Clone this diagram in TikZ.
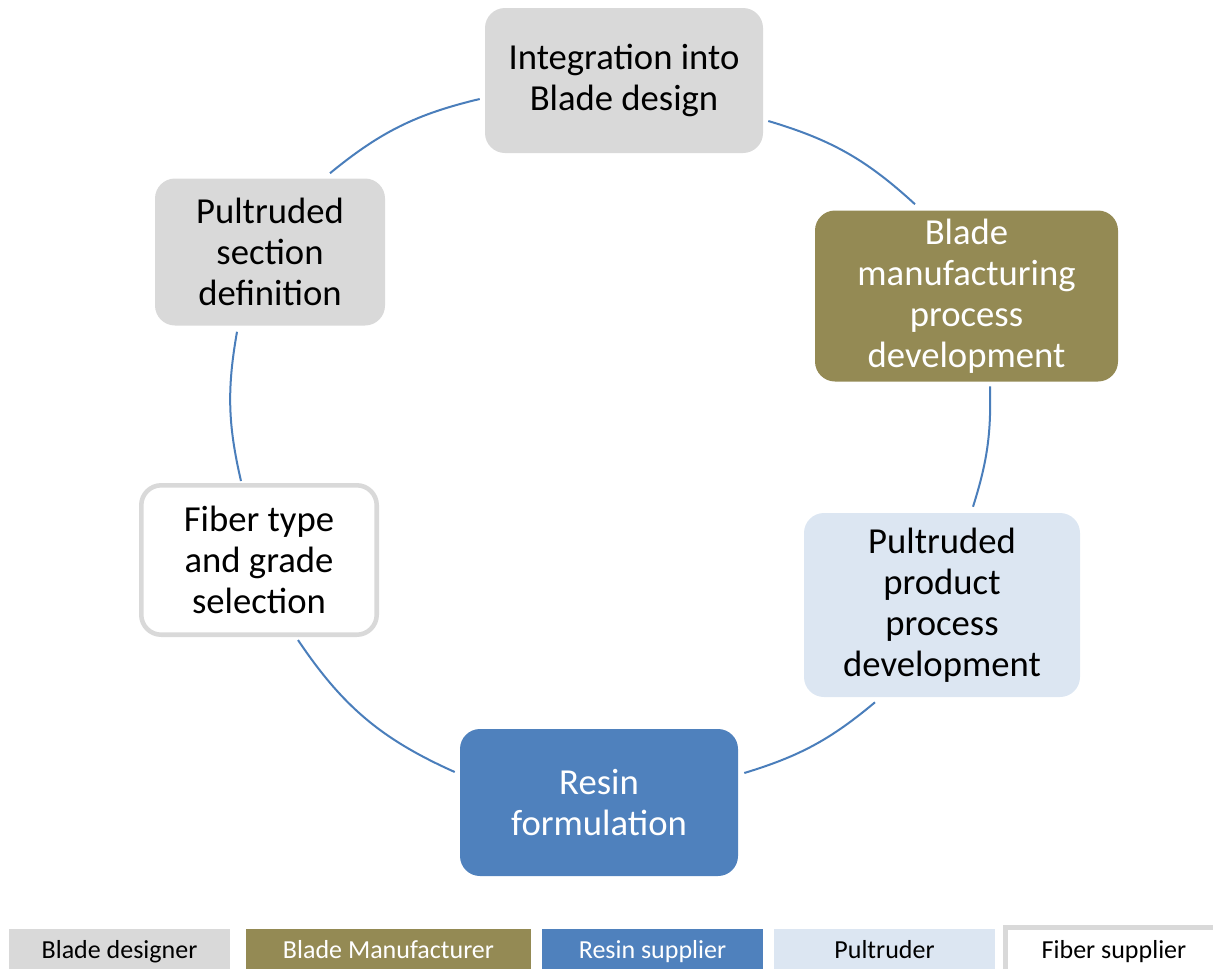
\documentclass[tikz,border=0pt]{standalone}
\usepackage{fontspec}
\setmainfont{Carlito}
\definecolor{boxgray}{HTML}{D9D9D9}
\definecolor{olive}{HTML}{948A54}
\definecolor{resinblue}{HTML}{4F81BD}
\definecolor{paleblue}{HTML}{DCE6F2}
\definecolor{linkblue}{HTML}{4A7EBB}

\begin{document}
\begin{tikzpicture}[x=0.75pt, y=0.75pt,
    box/.style={rounded corners=15pt, align=center, inner sep=0pt,
        font=\fontsize{27.5}{30.75}\selectfont},
    key/.style={minimum height=34.5pt, inner sep=0pt,
        text height=14.5pt, text depth=5pt,
        font=\fontsize{19.5}{22}\selectfont},
    cyc/.style={draw=linkblue, line width=1.5pt}]
    \clip (0,0) rectangle (1213,-968);

    % 箱を置く
    \node[box, fill=boxgray, minimum width=208.5pt, minimum height=108.75pt] (top) at (624,-80.5) {Integration into\\Blade design};
    \node[box, fill=olive, text=white, minimum width=227.25pt, minimum height=128.25pt] (bm) at (966.5,-296) {Blade\\manufacturing\\process\\development};
    \node[box, fill=paleblue, minimum width=207pt, minimum height=138pt] (pp) at (942,-605) {Pultruded\\product\\process\\development};
    \node[box, fill=resinblue, text=white, minimum width=208.5pt, minimum height=110.25pt] (resin) at (599,-802.5) {Resin\\formulation};
    \node[box, draw=boxgray, line width=3.4pt, fill=white, minimum width=176.6pt, minimum height=112.1pt] (fiber) at (259,-560) {Fiber type\\and grade\\selection};
    \node[box, fill=boxgray, minimum width=172.5pt, minimum height=110.25pt] (sec) at (270,-252) {Pultruded\\section\\definition};

    % 円弧を引く
    \draw[cyc] ([shift={(60,5)}]sec.north) to[bend left=13] ([shift={(-5,-18.5)}]top.west);
    \draw[cyc] ([shift={(5,-40.5)}]top.east) to[bend left=13] ([shift={(-51.5,6)}]bm.north);
    \draw[cyc] ([shift={(23.5,-4.5)}]bm.south) to[bend left=9.5] ([shift={(31,6)}]pp.north);
    \draw[cyc] ([shift={(-67,-5)}]pp.south) to[bend left=11.5] ([shift={(6,29.5)}]resin.east);
    \draw[cyc] ([shift={(-5,30.5)}]resin.west) to[bend left=16] ([shift={(39,-3)}]fiber.south);
    \draw[cyc] ([shift={(-18,2)}]fiber.north) to[bend left=11.5] ([shift={(-33,-6)}]sec.south);

    % 凡例
    \node[key, fill=boxgray, minimum width=165.75pt] (kdes) at (119.5,-952) {Blade designer};
    \node[key, fill=olive, text=white, minimum width=213.75pt] (kman) at (388.5,-952) {Blade Manufacturer};
    \node[key, fill=resinblue, text=white, minimum width=165.75pt] (kres) at (652.5,-952) {Resin supplier};
    \node[key, fill=paleblue, minimum width=165.75pt] (kpul) at (884.5,-952) {Pultruder};
    \node[key, draw=boxgray, line width=3.4pt, fill=white, minimum width=163.1pt, minimum height=37.1pt] (kfib) at (1114,-952) {Fiber supplier};
\end{tikzpicture}
\end{document}
